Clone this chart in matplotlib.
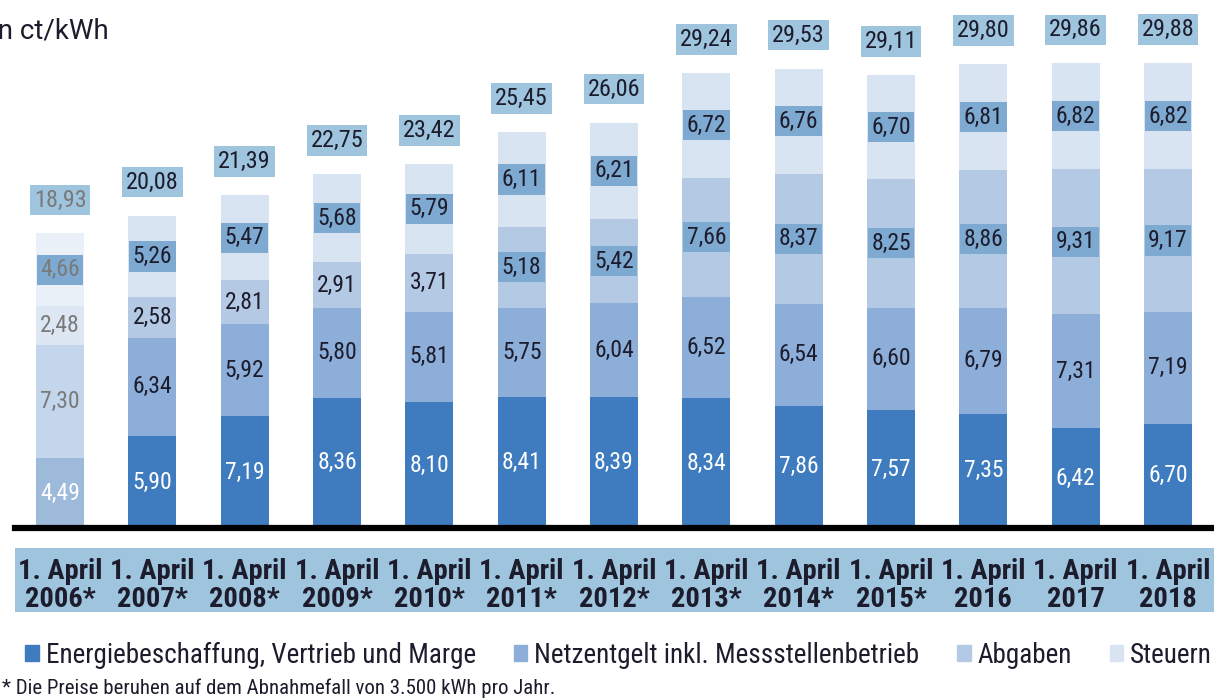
import matplotlib.pyplot as plt
from matplotlib.patches import Rectangle, Patch
import numpy as np

plt.rcParams['font.family'] = ['Roboto Condensed', 'DejaVu Sans']

jahre = ['1. April\n2006*', '1. April\n2007*', '1. April\n2008*', '1. April\n2009*',
         '1. April\n2010*', '1. April\n2011*', '1. April\n2012*', '1. April\n2013*',
         '1. April\n2014*', '1. April\n2015*', '1. April\n2016', '1. April\n2017',
         '1. April\n2018']
energie = [4.49, 5.90, 7.19, 8.36, 8.10, 8.41, 8.39, 8.34, 7.86, 7.57, 7.35, 6.42, 6.70]
netz = [7.30, 6.34, 5.92, 5.80, 5.81, 5.75, 6.04, 6.52, 6.54, 6.60, 6.79, 7.31, 7.19]
abgaben = [2.48, 2.58, 2.81, 2.91, 3.71, 5.18, 5.42, 7.66, 8.37, 8.25, 8.86, 9.31, 9.17]
steuern = [4.66, 5.26, 5.47, 5.68, 5.79, 6.11, 6.21, 6.72, 6.76, 6.70, 6.81, 6.82, 6.82]
gesamt = ['18,93', '20,08', '21,39', '22,75', '23,42', '25,45', '26,06', '29,24',
          '29,53', '29,11', '29,80', '29,86', '29,88']
legende = ['Energiebeschaffung, Vertrieb und Marge', 'Netzentgelt inkl. Messstellenbetrieb',
           'Abgaben', 'Steuern']

farben = ['#3f7cbf', '#8caed8', '#b4cae4', '#d9e4f2']
farben_2006 = ['#9dbadb', '#c3d6ec', '#dce7f3', '#eaf0f8']
box_hell = '#9fc4de'
box_dunkel = '#7ea9d1'
dunkel = '#1c1c2c'

W, H = 1214, 699
fig = plt.figure(figsize=(W / 100, H / 100), dpi=100)
# Achse: x von 15px bis 1214px, Grundlinie bei y=528px
ax = fig.add_axes([15 / W, 1 - 528 / H, 1 - 15 / W, 528 / H])
ax.set_xlim(-0.487, 12.498)
ax.set_ylim(0, 528 / 15.56)
ax.axis('off')

x = np.arange(len(jahre))
reihen = [energie, netz, abgaben, steuern]
unten = np.zeros(len(jahre))
for k, werte in enumerate(reihen):
    cols = [farben_2006[k] if i == 0 else farben[k] for i in range(len(jahre))]
    ax.bar(x, werte, 0.52, bottom=unten, color=cols, edgecolor='none')
    for i, v in enumerate(werte):
        txt = f'{v:.2f}'.replace('.', ',')
        mitte = unten[i] + v / 2
        farbe = dunkel
        bbox = None
        if k == 0:
            farbe = 'white'
        elif i == 0:
            farbe = '#7a7a7a'
        if k == 3 or (k == 2 and v > 5):
            bbox = dict(boxstyle='square,pad=0.15', fc=box_dunkel, ec='none')
        ax.text(x[i], mitte, txt, ha='center', va='center', fontsize=17,
                color=farbe, bbox=bbox)
    unten += np.array(werte)

for i, t in enumerate(gesamt):
    ax.text(x[i], unten[i] + 2.15, t, ha='center', va='center', fontsize=17.5,
            color='#7a7a7a' if i == 0 else dunkel,
            bbox=dict(boxstyle='square,pad=0.16', fc=box_hell, ec='none'))

ax.axhline(0, color='black', lw=4.5, xmin=0, xmax=1, clip_on=False)

# Band unter der Achse
fig.patches.append(Rectangle((15 / W, 1 - 612 / H), 1 - 15 / W, 64 / H,
                             transform=fig.transFigure, fc=box_hell, ec='none', zorder=-1))
for i, t in enumerate(jahre):
    ax.text(x[i], -3.7, t, ha='center', va='center', fontsize=20.5,
            fontweight='bold', color=dunkel, linespacing=1.05, clip_on=False)

handles = [Patch(color=c) for c in farben]
fig.legend(handles, legende, loc='center left', bbox_to_anchor=(0.012, 1 - 655 / H),
           ncol=4, frameon=False, fontsize=19.5, handlelength=0.5, handleheight=0.5,
           handletextpad=0.25, columnspacing=1.4, labelcolor=dunkel, borderaxespad=0)

fig.text(0.002, 1 - 688 / H, '* Die Preise beruhen auf dem Abnahmefall von 3.500 kWh pro Jahr.',
         fontsize=15, color=dunkel, va='center')
fig.text(-9 / W, 1 - 31 / H, 'in ct/kWh', fontsize=20, family='Roboto', color=dunkel, va='center')
fig.text(-9 / W, 1 + 9 / H, 'im Jahr', fontsize=20, family='Roboto', fontweight='bold',
         color=dunkel, va='center')

fig.savefig('out.png', dpi=100)
